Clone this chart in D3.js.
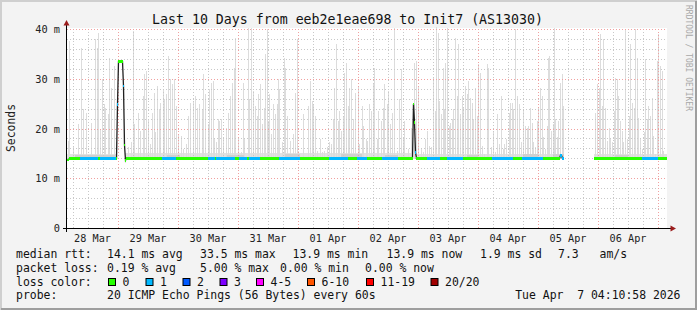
<!DOCTYPE html>
<html>
<head>
<meta charset="utf-8">
<script src="https://cdn.jsdelivr.net/npm/d3@7"></script>
<style>
body { margin: 0; background: #fff; }
svg text { font-family: "DejaVu Sans Mono", monospace; white-space: pre; }
</style>
</head>
<body>
<svg width="697" height="310"></svg>
<script>
//* data
const titleText = "Last 10 Days from eeb2e1eae698 to Init7 (AS13030)";
const startTime = new Date(Date.UTC(2026, 2, 28, 3, 36));
const endTime = new Date(Date.UTC(2026, 3, 7, 3, 36));
const stepMin = 24; // one sample per pixel column
const yTicks = [0, 10, 20, 30, 40];

// tallest ping of a sample (ms), [sample index, ms]
const smokeSpikes = [
	[1,17.5],[2,37.5],[6,16.2],[11,20.9],[14,36.2],[16,23.9],[19,23.2],[24,21.2],[28,37.9],[30,36.2],
	[31,39.2],[33,19.9],[35,29.9],[37,24.9],[38,24.2],[41,22.9],[42,34.2],[44,28.2],[47,32.5],[49,17.2],
	[61,16.2],[64,17.2],[66,39.5],[67,20.9],[71,23.2],[73,19.5],[76,26.5],[77,30.9],[79,31.5],[81,21.9],
	[83,16.9],[85,23.2],[87,27.2],[88,19.2],[90,28.5],[92,23.9],[93,25.2],[96,27.9],[97,25.9],[99,26.9],
	[101,34.5],[103,29.9],[105,28.9],[107,29.9],[109,24.5],[111,18.9],[114,18.5],[116,15.9],[119,16.9],[121,22.5],
	[123,25.2],[126,25.5],[128,26.5],[130,24.2],[132,24.9],[135,23.9],[136,30.9],[138,26.9],[141,20.9],[142,27.9],
	[144,29.2],[146,29.5],[147,17.9],[149,17.2],
	[151,21.9],[152,21.5],[154,21.9],[156,17.9],[159,20.2],[161,23.2],[163,26.5],[165,29.2],[167,32.2],[168,38.2],
	[171,18.2],[174,15.2],[176,29.2],[177,17.9],[181,40.2],[182,25.9],[184,40.2],[186,27.5],[188,24.5],[190,22.5],
	[191,26.9],[193,28.9],[195,20.9],[197,24.2],[198,34.9],[200,39.9],[201,21.5],[202,26.9],[204,18.9],[206,24.9],
	[208,22.9],[210,24.9],[211,29.9],[212,27.9],[215,17.2],[217,34.2],[218,32.2],[220,22.5],[223,17.5],[226,18.9],
	[228,27.2],[230,37.9],[231,15.5],[236,22.9],[241,24.5],[243,29.5],[245,25.5],[246,24.9],[248,22.5],[250,15.5],
	[253,17.9],[255,15.2],[257,15.5],[260,16.2],[262,17.2],[264,16.9],[266,21.9],[267,28.2],[269,36.9],[271,21.5],
	[272,23.5],[274,19.5],[276,22.5],[277,31.2],[279,33.2],[281,24.5],[282,28.2],[284,29.9],[286,21.9],[288,27.2],
	[291,28.5],[292,16.9],[295,24.5],[296,20.5],[299,17.9],
	[300,17.5],[302,24.9],[304,23.5],[306,28.9],[307,32.2],[310,17.9],[311,23.5],[314,21.5],[316,24.2],[317,28.9],
	[320,24.9],[321,27.5],[323,20.9],[325,23.2],[327,40.2],[330,15.5],[332,25.9],[334,31.9],[336,17.9],[337,21.5],
	[341,15.9],[344,20.2],[347,33.2],[349,33.5],[351,28.5],[354,15.9],[356,15.2],[358,17.9],[360,19.5],[362,16.5],
	[364,16.2],[366,30.2],[368,23.5],[369,40.5],[371,39.2],[372,25.5],[374,22.9],[376,32.2],[377,23.9],[378,33.2],
	[380,40.2],[382,20.5],[383,21.2],[385,21.9],[386,23.9],[388,38.2],[390,26.5],[391,36.9],[393,22.9],[395,26.5],
	[396,24.2],[398,28.5],[400,26.9],[401,29.5],[403,26.2],[405,25.2],[406,21.9],[408,28.2],[410,22.5],[411,32.9],
	[413,31.2],[415,16.5],[417,14.9],[420,32.9],[421,32.2],[424,16.2],[426,19.5],[428,15.2],[430,22.9],[432,16.9],
	[434,26.5],[436,15.9],[437,16.9],[439,17.9],[442,23.2],[443,25.2],[445,25.2],[446,23.9],[448,39.9],
	[450,26.5],[452,24.9],[454,17.2],[456,23.9],[458,20.5],[460,20.2],[461,20.5],[463,24.2],[465,21.2],[466,17.2],
	[468,16.2],[470,21.5],[471,24.2],[473,28.2],[475,26.5],[476,18.2],[478,15.9],[480,20.5],[481,34.2],[482,34.5],
	[484,19.5],[486,20.9],[487,40.2],[488,21.9],[490,18.2],[491,21.5],[493,29.2],[495,30.9],[496,24.5],
	[528,23.2],[530,28.9],[532,28.2],[533,38.9],[535,24.5],[536,37.9],[538,24.2],[540,17.5],[542,20.2],[543,17.9],
	[545,17.2],[547,23.5],[548,30.2],[550,29.9],[551,26.5],[553,21.5],[555,19.5],[556,17.2],[558,39.9],[560,17.9],
	[562,22.5],[563,36.9],[565,25.2],[567,24.2],[568,39.9],[570,34.2],[571,22.2],[573,17.9],[575,15.9],[577,19.2],
	[578,33.9],[580,21.9],[581,24.5],[583,22.5],[585,26.2],[586,18.5],[588,14.9],[590,33.5],[591,38.9],[593,32.5],
	[595,31.5],[596,15.5]
];

// low smoke between spikes: [from, to, ms]
const smokeLow = [[0, 49, 14.9], [58, 345, 15.0], [349, 496, 14.9], [527, 599, 14.8]];
// darker inner smoke (middle pings): [from, to, ms]
const smokeMid = [[8, 47, 14.6], [100, 112, 14.7], [160, 176, 14.6], [218, 232, 14.8], [274, 294, 14.9],
	[318, 330, 14.6], [400, 410, 14.7], [456, 470, 14.8], [486, 496, 14.9], [548, 560, 14.7]];
const smokeMin = 13.8;

// median rtt runs: [from, to, ms]
const medianRuns = [
	[0, 1, 13.7], [2, 49, 14.0], [50, 50, 24.8], [51, 55, 33.5], [56, 56, 28.5], [57, 57, 16.7],
	[58, 58, 13.6], [59, 345, 14.0], [346, 346, 24.9], [347, 347, 21.2], [348, 348, 15.2],
	[349, 492, 14.0], [493, 494, 14.6], [495, 496, 14.0], [527, 599, 14.0]
];

// samples with lost pings: [from, to, lost]
const lossRuns = [
	[13, 30, 1], [33, 48, 1], [50, 50, 1], [56, 56, 1], [95, 108, 1], [141, 147, 1], [149, 167, 1],
	[172, 179, 1], [182, 192, 1], [212, 232, 1], [262, 280, 1], [290, 299, 1], [315, 330, 1],
	[348, 348, 1], [360, 372, 1], [380, 395, 1], [425, 445, 1], [455, 475, 1], [493, 496, 1], [575, 590, 1]
];

const lossColors = ["#26ff00", "#00b8ff", "#0059ff", "#7e00ff", "#ff00ff", "#ff5500", "#ff0000", "#a10000"];
const lossLabels = ["0", "1", "2", "3", "4-5", "6-10", "11-19", "20/20"];
const lossLegendX = [108, 145.5, 182.5, 219.5, 256, 307, 366, 430.5];

const rttStats = [["median rtt:", 16], ["14.1 ms avg", 107], ["33.5 ms max", 200], ["13.9 ms min", 292.5],
	["13.9 ms now", 386.5], ["1.9 ms sd", 480], ["7.3", 558], ["am/s", 599.5]];
const lossStats = [["packet loss:", 16], ["0.19 % avg", 107], ["5.00 % max", 200], ["0.00 % min", 280],
	["0.00 % now", 365]];
const probeText = "20 ICMP Echo Pings (56 Bytes) every 60s";
const dateText = "Tue Apr  7 04:10:58 2026";

//* svg
const svg = d3.select("svg");
const W = 697, H = 310;

//* scales
const x = d3.scaleUtc().domain([startTime, endTime]).range([67, 667]);
const y = d3.scaleLinear().domain([0, 40]).range([228, 29]);
const colTime = (c) => new Date(+startTime + c * stepMin * 60000);
const px = (c) => x(colTime(c));
const py = (v) => Math.round(y(v));

// expand runs into samples
const expand = (runs) => runs.flatMap(([a, b, v]) => d3.range(a, b + 1).map((c) => ({ c, v })));
const medians = expand(medianRuns);
const lossByCol = new Map(expand(lossRuns).map((d) => [d.c, d.v]));

//* background + frame
svg.append("rect").attr("width", W).attr("height", H).attr("fill", "#f3f3f3");
svg.append("path").attr("d", `M1,${H} V1 H${W}`).attr("fill", "none").attr("stroke", "#cfcfcf").attr("stroke-width", 2);
svg.append("path").attr("d", `M1,${H - 1} H${W - 1} V1`).attr("fill", "none").attr("stroke", "#9e9e9e").attr("stroke-width", 2);

svg.append("rect").attr("x", 67).attr("y", 28).attr("width", 600).attr("height", 200).attr("fill", "#fff");

//* smoke
const smokeBars = (data, color) => svg.append("g")
	.attr("shape-rendering", "crispEdges")
	.selectAll("rect")
	.data(data)
	.join("rect")
	.attr("x", (d) => px(d.c))
	.attr("width", 1)
	.attr("y", (d) => py(d.v))
	.attr("height", (d) => py(smokeMin) - py(d.v))
	.attr("fill", color);

smokeBars(expand(smokeLow), "#e2e2e2");
smokeBars(smokeSpikes.map(([c, v]) => ({ c, v })), "#dcdcdc");
smokeBars(expand(smokeMid), "#d0d0d0");

//* grid
const grid = svg.append("g").attr("shape-rendering", "crispEdges");
const minorY = d3.range(2, 41, 2).filter((v) => v % 10 !== 0);
grid.selectAll("line.my")
	.data(minorY)
	.join("line")
	.attr("x1", 67).attr("x2", 667)
	.attr("y1", (d) => py(d) + 0.5).attr("y2", (d) => py(d) + 0.5)
	.attr("stroke", "#c8c8c8").attr("stroke-dasharray", "1,2");
const hours6 = d3.utcHour.every(6).range(startTime, endTime).filter((t) => t.getUTCHours() !== 0);
grid.selectAll("line.mx")
	.data(hours6)
	.join("line")
	.attr("y1", 29).attr("y2", 228)
	.attr("x1", (d) => Math.round(x(d)) + 0.5).attr("x2", (d) => Math.round(x(d)) + 0.5)
	.attr("stroke", "#c8c8c8").attr("stroke-dasharray", "1,2");
grid.selectAll("line.My")
	.data(yTicks.filter((v) => v > 0))
	.join("line")
	.attr("x1", 67).attr("x2", 667)
	.attr("y1", (d) => py(d) + 0.5).attr("y2", (d) => py(d) + 0.5)
	.attr("stroke", "#f0a0a0").attr("stroke-dasharray", "1,2");
const days = d3.utcDay.range(d3.utcDay.floor(startTime), endTime);
grid.selectAll("line.Mx")
	.data(days.filter((d) => d > startTime))
	.join("line")
	.attr("y1", 29).attr("y2", 228)
	.attr("x1", (d) => Math.round(x(d)) + 0.5).attr("x2", (d) => Math.round(x(d)) + 0.5)
	.attr("stroke", "#f0a0a0").attr("stroke-dasharray", "1,2");

//* median line (black) and loss coloured band
const lineGen = d3.line()
	.x((d) => px(d.c) + 0.5)
	.y((d) => y(d.v));
const segments = [];
medians.forEach((d, i) => {
	if (i === 0 || d.c !== medians[i - 1].c + 1) segments.push([]);
	segments[segments.length - 1].push(d);
});
svg.append("g")
	.selectAll("path")
	.data(segments)
	.join("path")
	.attr("d", lineGen)
	.attr("fill", "none")
	.attr("stroke", "#202020")
	.attr("stroke-width", 1.3);

svg.append("g")
	.attr("shape-rendering", "crispEdges")
	.selectAll("rect")
	.data(medians)
	.join("rect")
	.attr("x", (d) => px(d.c))
	.attr("width", 1)
	.attr("y", (d) => y(d.v) - 1.2)
	.attr("height", 2.4)
	.attr("fill", (d) => lossColors[lossByCol.get(d.c) || 0]);

//* axes
svg.append("line").attr("x1", 66.5).attr("x2", 66.5).attr("y1", 232).attr("y2", 24)
	.attr("stroke", "#000").attr("shape-rendering", "crispEdges");
svg.append("line").attr("x1", 63).attr("x2", 671).attr("y1", 228.5).attr("y2", 228.5)
	.attr("stroke", "#000").attr("shape-rendering", "crispEdges");
svg.append("path").attr("d", "M63.5,25.5 L66.5,20 L69.5,25.5 Z").attr("fill", "#9b1c1c");
svg.append("path").attr("d", "M670.5,225.5 L676,228.5 L670.5,231.5 Z").attr("fill", "#9b1c1c");

// y labels
svg.append("g")
	.selectAll("text")
	.data(yTicks)
	.join("text")
	.attr("x", 60)
	.attr("y", (d) => py(d) + 4)
	.attr("text-anchor", "end")
	.attr("font-size", "10.3px")
	.attr("fill", "#222")
	.text((d) => (d === 0 ? "0" : `${d} m`));

// x labels centred on visible part of each day
const dayFmt = d3.utcFormat("%d %b");
const dayLabels = days.map((d) => {
	const a = x(d3.max([d, startTime])), b = x(d3.min([d3.utcDay.offset(d, 1), endTime]));
	return { d, cx: (a + b) / 2, w: b - a };
}).filter((o) => o.w >= 45);
svg.append("g")
	.selectAll("text")
	.data(dayLabels)
	.join("text")
	.attr("x", (o) => o.cx)
	.attr("y", 242)
	.attr("text-anchor", "middle")
	.attr("font-size", "10.2px")
	.attr("fill", "#222")
	.text((o) => dayFmt(o.d));

//* title and side texts
svg.append("text").attr("x", 347.5).attr("y", 24).attr("text-anchor", "middle")
	.attr("font-size", "13.25px").attr("fill", "#111").text(titleText);
svg.append("text").attr("transform", "translate(15,128) rotate(-90)").attr("text-anchor", "middle")
	.attr("font-size", "11.4px").attr("fill", "#222").text("Seconds");
svg.append("text").attr("transform", "translate(685.5,5) rotate(90)")
	.attr("font-size", "8px").attr("fill", "#a8a8a8").text("RRDTOOL / TOBI OETIKER");

//* legend
const leg = svg.append("g").attr("font-size", "11.45px").attr("fill", "#111");
leg.selectAll("text.r").data(rttStats).join("text")
	.attr("x", (d) => d[1]).attr("y", 258.3).text((d) => d[0]);
leg.selectAll("text.l").data(lossStats).join("text")
	.attr("x", (d) => d[1]).attr("y", 272).text((d) => d[0]);
leg.append("text").attr("x", 16).attr("y", 285.7).text("loss color:");
const boxes = leg.selectAll("g.box").data(lossLabels).join("g");
boxes.append("rect")
	.attr("x", (_, i) => lossLegendX[i] + 0.5).attr("y", 278.5)
	.attr("width", 7).attr("height", 7)
	.attr("fill", (_, i) => lossColors[i]).attr("stroke", "#000");
boxes.append("text")
	.attr("x", (_, i) => lossLegendX[i] + 14.5).attr("y", 285.7).text((d) => d);
leg.append("text").attr("x", 16).attr("y", 299.4).text("probe:");
leg.append("text").attr("x", 107).attr("y", 299.4).text(probeText);
leg.append("text").attr("x", 680.5).attr("y", 299.4).attr("text-anchor", "end").text(dateText);
</script>
</body>
</html>
